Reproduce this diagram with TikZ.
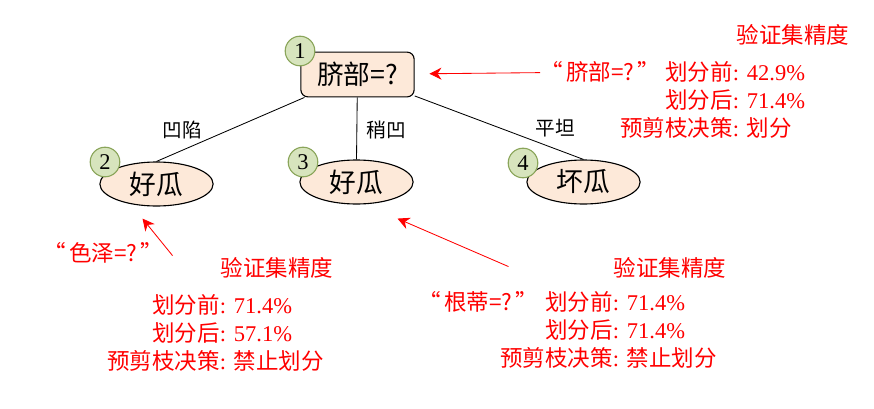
\documentclass[tikz,border=0pt]{standalone}
\usepackage{fontspec}
\setmainfont{Liberation Serif}
\newfontfamily\cjk{Noto Sans CJK SC}
\usetikzlibrary{calc,arrows.meta,shapes.geometric}
\definecolor{nodefill}{HTML}{FDE9D9}
\definecolor{numfill}{HTML}{D7E4BD}
\definecolor{numline}{HTML}{8AA55A}
\definecolor{notered}{HTML}{FF0000}
\newcommand{\quoted}[1]{“\hspace{0.15em}#1\hspace{0.12em}”}

\begin{document}
\begin{tikzpicture}[x=0.025cm, y=-0.025cm,
  every node/.style={inner sep=0pt},
  split/.style={draw, rounded corners=5pt, fill=nodefill, line width=0.8pt,
    minimum width=2.83cm, minimum height=1.12cm, font=\cjk\fontsize{19}{23}\selectfont},
  leaf/.style={draw, ellipse, fill=nodefill, line width=0.8pt,
    minimum width=2.83cm, minimum height=1.1cm, font=\cjk\fontsize{19}{23}\selectfont},
  num/.style={draw=numline, circle, fill=numfill, line width=0.8pt,
    minimum size=0.74cm, font=\fontsize{16}{18}\selectfont},
  branch/.style={font=\cjk\fontsize{14}{16}\selectfont},
  notetext/.style={text=notered, font=\fontsize{16}{20}\selectfont},
  edge/.style={draw, line width=0.6pt},
  annot/.style={draw=notered, line width=0.6pt, -{Stealth[length=0.3cm, width=0.3cm]}}]
\useasboundingbox (0,0) rectangle (874,408);

% tree
\node[split] (navel) at (357.5,74.5) {脐部=?};
\node[leaf] (good1) at (156.5,184) {好瓜};
\node[leaf] (good2) at (356.5,182) {好瓜};
\node[leaf] (bad) at (583.5,182) {坏瓜};
\draw[edge] (navel) -- (good1.north);
\draw[edge] (navel) -- (good2.north);
\draw[edge] (navel) -- (bad.north);
\node[branch] (sunken) at (182,130) {凹陷};
\node[branch] (slight) at (386,130) {稍凹};
\node[branch] (flat) at (555,128) {平坦};

% node numbers
\node[num] (num1) at (300,51) {1};
\node[num] (num2) at (105,162) {2};
\node[num] (num3) at (303,162) {3};
\node[num] (num4) at (523,163) {4};

% validation accuracy, root
\node[notetext] (acctitle1) at (793,35) {\cjk 验证集精度};
\node[notetext] (query1) at (600,72) {\cjk \quoted{脐部=?}};
\node[notetext, anchor=base west] (acc1) at (620,80) {\begin{tabular}[t]{@{}r@{\hspace{0.35em}}l@{}}
  {\cjk 划分前}: & 42.9\% \\
  {\cjk 划分后}: & 71.4\% \\
  {\cjk 预剪枝决策}: & {\cjk 划分}
\end{tabular}};
\draw[annot, shorten >=0.37cm] (query1) -- (navel);

% validation accuracy, node 2
\node[notetext] (acctitle2) at (277,268) {\cjk 验证集精度};
\node[notetext] (query2) at (103,253) {\cjk \quoted{色泽=?}};
\node[notetext, anchor=base west] (acc2) at (107,313) {\begin{tabular}[t]{@{}r@{\hspace{0.35em}}l@{}}
  {\cjk 划分前}: & 71.4\% \\
  {\cjk 划分后}: & 57.1\% \\
  {\cjk 预剪枝决策}: & {\cjk 禁止划分}
\end{tabular}};
\coordinate (tail2) at ($(good1.south)+(16,49)$);
\coordinate (tip2) at ($(good1.south)+(-14,12)$);
\draw[annot] (tail2) -- (tip2);

% validation accuracy, node 3
\node[notetext] (acctitle3) at (670,268) {\cjk 验证集精度};
\node[notetext] (query3) at (478,302) {\cjk \quoted{根蒂=?}};
\node[notetext, anchor=base west] (acc3) at (500,310) {\begin{tabular}[t]{@{}r@{\hspace{0.35em}}l@{}}
  {\cjk 划分前}: & 71.4\% \\
  {\cjk 划分后}: & 71.4\% \\
  {\cjk 预剪枝决策}: & {\cjk 禁止划分}
\end{tabular}};
\coordinate (tail3) at ($(good2.south)+(152,62)$);
\coordinate (tip3) at ($(good2.south)+(41,14)$);
\draw[annot] (tail3) -- (tip3);
\end{tikzpicture}
\end{document}
